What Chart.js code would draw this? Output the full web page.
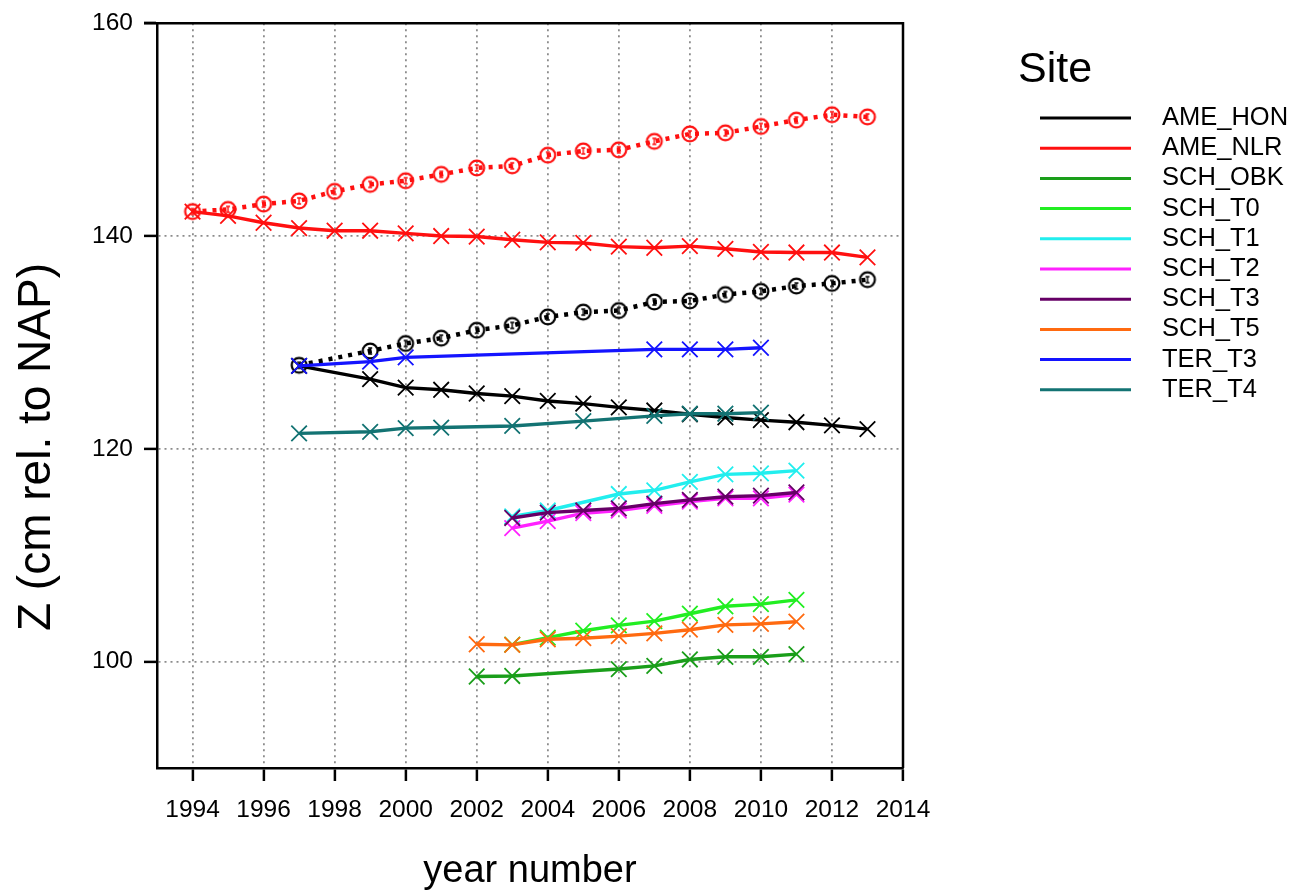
<!DOCTYPE html>
<html>
<head>
<meta charset="utf-8">
<title>Z per site</title>
<script src="https://cdn.jsdelivr.net/npm/chart.js@4.4.1/dist/chart.umd.min.js"></script>
<style>
    html, body { margin: 0; padding: 0; background: #fff; }
    #wrap { width: 1302px; height: 891px; }
</style>
</head>
<body>
<div id="wrap"><canvas id="chartCanvasId" width="1302" height="891"></canvas></div>
<script>
"use strict";

// tick labels
const xTicks = [1994, 1996, 1998, 2000, 2002, 2004, 2006, 2008, 2010, 2012, 2014];
const yTicks = [100, 120, 140, 160];

// sites shown in the legend
const sites = ["AME_HON", "AME_NLR", "SCH_OBK", "SCH_T0", "SCH_T1", "SCH_T2", "SCH_T3", "SCH_T5", "TER_T3", "TER_T4"];

// values (year, Z)
const honYears = [1997, 1999, 2000, 2001, 2002, 2003, 2004, 2005, 2006, 2007, 2008, 2009, 2010, 2011, 2012, 2013];
const honValues = [127.8, 126.55, 125.75, 125.55, 125.2, 124.95, 124.5, 124.25, 123.9, 123.6, 123.25, 122.95, 122.7, 122.5, 122.2, 121.85];
const honDotValues = [127.85, 129.2, 129.9, 130.4, 131.15, 131.6, 132.4, 132.85, 133.0, 133.8, 133.9, 134.5, 134.8, 135.3, 135.55, 135.9];

const nlrYears = [1994, 1995, 1996, 1997, 1998, 1999, 2000, 2001, 2002, 2003, 2004, 2005, 2006, 2007, 2008, 2009, 2010, 2011, 2012, 2013];
const nlrValues = [142.3, 141.9, 141.25, 140.75, 140.5, 140.5, 140.25, 140.0, 139.95, 139.65, 139.4, 139.35, 139.0, 138.9, 139.05, 138.8, 138.5, 138.45, 138.45, 138.0];
const nlrDotValues = [142.3, 142.5, 143.0, 143.3, 144.2, 144.85, 145.2, 145.8, 146.4, 146.6, 147.6, 148.0, 148.1, 148.9, 149.6, 149.7, 150.3, 150.9, 151.4, 151.2];

const obkYears = [2002, 2003, 2006, 2007, 2008, 2009, 2010, 2011];
const obkValues = [98.6, 98.65, 99.3, 99.6, 100.2, 100.45, 100.45, 100.7];

const t0Years = [2003, 2004, 2005, 2006, 2007, 2008, 2009, 2010, 2011];
const t0Values = [101.6, 102.25, 102.9, 103.4, 103.8, 104.5, 105.2, 105.4, 105.8];

const t1Years = [2003, 2004, 2006, 2007, 2008, 2009, 2010, 2011];
const t1Values = [113.65, 114.2, 115.75, 116.1, 116.9, 117.6, 117.7, 117.95];

const t2Years = [2003, 2004, 2005, 2006, 2007, 2008, 2009, 2010, 2011];
const t2Values = [112.55, 113.2, 113.95, 114.2, 114.65, 115.05, 115.35, 115.35, 115.7];

const t3Years = [2003, 2004, 2005, 2006, 2007, 2008, 2009, 2010, 2011];
const t3Values = [113.5, 114.0, 114.2, 114.4, 114.85, 115.2, 115.5, 115.6, 115.9];

const t5Years = [2002, 2003, 2004, 2005, 2006, 2007, 2008, 2009, 2010, 2011];
const t5Values = [101.63, 101.57, 102.1, 102.2, 102.4, 102.65, 103.0, 103.45, 103.55, 103.75];

const terT3Years = [1997, 1999, 2000, 2007, 2008, 2009, 2010];
const terT3Values = [127.8, 128.2, 128.6, 129.35, 129.35, 129.35, 129.5];

const terT4Years = [1997, 1999, 2000, 2001, 2003, 2005, 2007, 2008, 2009, 2010];
const terT4Values = [121.45, 121.6, 121.95, 122.0, 122.15, 122.6, 123.1, 123.3, 123.3, 123.4];

const colors = {
    AME_HON: "#000000",
    AME_NLR: "#ff1010",
    SCH_OBK: "#1a9e1a",
    SCH_T0: "#22ee22",
    SCH_T1: "#22eeee",
    SCH_T2: "#ff22ff",
    SCH_T3: "#660066",
    SCH_T5: "#ff6a10",
    TER_T3: "#1414ff",
    TER_T4: "#137373",
};

const fontFamily = "'Liberation Sans', Arial, sans-serif";

function points(years, values) {
    return years.map((y, i) => ({ x: y, y: values[i] }));
}

// open circle with a small error-bar glyph inside
function circleMarker(color) {
    const c = document.createElement("canvas");
    c.width = 20;
    c.height = 20;
    const g = c.getContext("2d");
    g.strokeStyle = color;
    g.lineWidth = 2.2;
    g.beginPath();
    g.arc(10, 10, 7.4, 0, Math.PI * 2);
    g.stroke();
    g.lineWidth = 1.4;
    g.beginPath();
    g.moveTo(10, 7); g.lineTo(10, 13);
    g.moveTo(8, 7); g.lineTo(12, 7);
    g.moveTo(8, 13); g.lineTo(12, 13);
    g.stroke();
    return c;
}

function solidSet(site, years, values) {
    return {
        label: site,
        data: points(years, values),
        borderColor: colors[site],
        backgroundColor: colors[site],
        borderWidth: 3.4,
        pointStyle: "crossRot",
        pointRadius: 11,
        pointBorderWidth: 1.8,
        pointBorderColor: colors[site],
        tension: 0,
    };
}

function dottedSet(site, years, values) {
    return {
        label: site + " (dotted)",
        data: points(years, values),
        borderColor: colors[site],
        borderWidth: 4.5,
        borderDash: [4, 6],
        pointStyle: circleMarker(colors[site]),
        pointRadius: 10,
        tension: 0,
    };
}

const datasets = [
    solidSet("TER_T4", terT4Years, terT4Values),
    solidSet("TER_T3", terT3Years, terT3Values),
    solidSet("SCH_T5", t5Years, t5Values),
    solidSet("SCH_T3", t3Years, t3Values),
    solidSet("SCH_T2", t2Years, t2Values),
    solidSet("SCH_T1", t1Years, t1Values),
    solidSet("SCH_T0", t0Years, t0Values),
    solidSet("SCH_OBK", obkYears, obkValues),
    dottedSet("AME_NLR", nlrYears, nlrDotValues),
    solidSet("AME_NLR", nlrYears, nlrValues),
    dottedSet("AME_HON", honYears, honDotValues),
    solidSet("AME_HON", honYears, honValues),
];

// top and right sides of the frame, plus the y title
const framePlugin = {
    id: "frame",
    afterDraw(chart) {
        const { ctx, chartArea } = chart;
        ctx.save();
        ctx.strokeStyle = "#000";
        ctx.lineWidth = 2.5;
        ctx.beginPath();
        ctx.moveTo(chartArea.left - 13, chartArea.top);
        ctx.lineTo(chartArea.right, chartArea.top);
        ctx.lineTo(chartArea.right, chartArea.bottom);
        ctx.stroke();

        ctx.translate(37, 447);
        ctx.rotate(-Math.PI / 2);
        ctx.fillStyle = "#000";
        ctx.font = "46px " + fontFamily;
        ctx.textAlign = "center";
        ctx.textBaseline = "middle";
        ctx.fillText("Z (cm rel. to NAP)", 0, 0);
        ctx.restore();
    },
};

// "Site" legend on the right
const sitePlugin = {
    id: "siteLegend",
    afterDraw(chart) {
        const ctx = chart.ctx;
        ctx.save();
        ctx.fillStyle = "#000";
        ctx.font = "43px " + fontFamily;
        ctx.textBaseline = "alphabetic";
        ctx.fillText("Site", 1018, 82);
        ctx.font = "25.5px " + fontFamily;
        ctx.textBaseline = "middle";
        sites.forEach((site, i) => {
            const y = 118 + i * 30.2;
            ctx.strokeStyle = colors[site];
            ctx.lineWidth = 3;
            ctx.beginPath();
            ctx.moveTo(1040, y);
            ctx.lineTo(1131, y);
            ctx.stroke();
            ctx.fillText(site, 1162, y);
        });
        ctx.restore();
    },
};

const gridStyle = {
    color: "#8c8c8c",
    lineWidth: 1.8,
    tickColor: "#000",
    tickWidth: 2.5,
    tickLength: 13,
    tickBorderDash: [],
};

const borderStyle = { color: "#000", width: 2.5, dash: [2, 4] };

function initialize() {
    const chartContext = document.getElementById("chartCanvasId").getContext("2d");

    new Chart(chartContext, {
        type: "line",
        data: { datasets: datasets },
        plugins: [framePlugin, sitePlugin],
        options: {
            responsive: false,
            animation: false,
            layout: { padding: { left: 0, right: 399, top: 22, bottom: 0 } },
            plugins: {
                legend: { display: false },
                tooltip: { enabled: false },
            },
            scales: {
                x: {
                    type: "linear",
                    min: 1993,
                    max: 2014,
                    afterBuildTicks: scale => { scale.ticks = xTicks.map(v => ({ value: v })); },
                    afterFit: scale => { scale.height = 123; },
                    grid: gridStyle,
                    border: borderStyle,
                    ticks: {
                        color: "#000",
                        padding: 17,
                        maxRotation: 0,
                        font: { family: fontFamily, size: 24.5, lineHeight: 1 },
                        callback: v => String(v),
                    },
                    title: {
                        display: true,
                        text: "year number",
                        color: "#000",
                        padding: { top: 0, bottom: 0 },
                        font: { family: fontFamily, size: 38, lineHeight: 1 },
                    },
                },
                y: {
                    min: 90,
                    max: 160,
                    afterBuildTicks: scale => { scale.ticks = yTicks.map(v => ({ value: v })); },
                    afterFit: scale => { scale.width = 157; },
                    grid: gridStyle,
                    border: borderStyle,
                    ticks: {
                        color: "#000",
                        padding: 11,
                        font: { family: fontFamily, size: 24.5, lineHeight: 1 },
                    },
                },
            },
        },
    });
}

initialize();
</script>
</body>
</html>
